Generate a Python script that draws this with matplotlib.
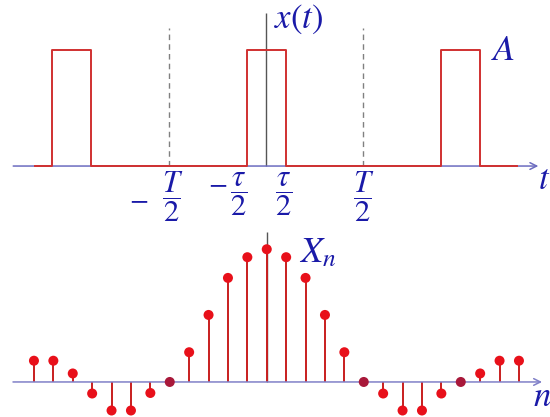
import numpy as np
import matplotlib.pyplot as plt

plt.rcParams['mathtext.fontset'] = 'stix'
plt.rcParams['font.family'] = ['Liberation Serif', 'DejaVu Serif']

# ---------- data ----------
A = 1.0          # pulse height
T = 10.0         # period
tau = 2.0        # pulse width
pulse_centers = [-T, 0.0, T]
t_start, t_end = -11.9, 12.9

n = np.arange(-12, 14)
Xn = [0.16, 0.16, 0.064, -0.087, -0.215, -0.215, -0.083, 0.0,
      0.224, 0.505, 0.784, 0.94, 1.0, 0.94, 0.784, 0.505, 0.224,
      0.0, -0.087, -0.215, -0.215, -0.087, 0.0, 0.064, 0.16, 0.16]

tick_pos = [-T / 2, -tau / 2, tau / 2, T / 2]
tick_txt = [r'$\dfrac{T}{2}$', r'$\dfrac{\tau}{2}$', r'$\dfrac{\tau}{2}$', r'$\dfrac{T}{2}$']
tick_neg = [True, True, False, False]

# ---------- colours ----------
red_line = '#d03030'
stem_col = '#c81e1e'
dot_col = '#e8101a'
zero_dot = '#a8183a'
axis_col = '#6c6cc0'
txt_col = '#1a1aa8'

fig = plt.figure(figsize=(5.5, 4.17), dpi=100)

# ---------- top: pulse train ----------
ax1 = fig.add_axes([0, 187 / 417, 1, 230 / 417])
ax1.set_xlim(-13.68, 14.60)
ax1.set_ylim(-0.549, 1.425)
ax1.axis('off')

ts, ys = [t_start], [0.0]
for c in pulse_centers:
    ts += [c - tau / 2, c - tau / 2, c + tau / 2, c + tau / 2]
    ys += [0.0, A, A, 0.0]
ts.append(t_end)
ys.append(0.0)

ax1.annotate('', xy=(14.0, 0), xytext=(-13.0, 0),
             arrowprops=dict(arrowstyle='->', color=axis_col, lw=1.1,
                             shrinkA=0, shrinkB=0, mutation_scale=12))
ax1.plot(ts, ys, color=red_line, lw=1.4, zorder=3)
ax1.vlines([-T / 2, T / 2], 0, 1.185, colors='#808080', lw=1,
           linestyles=(0, (4, 3)))
ax1.vlines(0, 0, 1.31, colors='#555555', lw=1, zorder=2)

ax1.text(0.40, 1.26, r'$x(t)$', fontsize=25, color=txt_col, ha='left', va='center')
ax1.text(11.55, 0.98, r'$A$', fontsize=26, color=txt_col, ha='left', va='center')
ax1.text(14.0, -0.12, r'$t$', fontsize=25, color=txt_col, ha='left', va='center')

# tick labels under the time axis
offsets = [0.18, -0.39, -0.10, 0.04]
heights = [-0.266, -0.245, -0.245, -0.266]
for p, s, neg, dx, hy in zip(tick_pos, tick_txt, tick_neg, offsets, heights):
    ax1.text(p + dx, hy, s, fontsize=22, color=txt_col, ha='center', va='center')
    if neg:
        mx = p + dx - (1.72 if 'T' in s else 1.08)
        my = hy - (0.03 if 'T' in s else -0.082)
        ax1.text(mx, my, r'$-$', fontsize=20, color=txt_col, ha='center', va='center')

# ---------- bottom: line spectrum ----------
ax2 = fig.add_axes([0, 0, 1, 187 / 417])
ax2.set_xlim(-13.75, 14.60)
ax2.set_ylim(-0.264, 1.145)
ax2.axis('off')

ax2.annotate('', xy=(14.19, 0), xytext=(-13.08, 0),
             arrowprops=dict(arrowstyle='->', color='#8080c8', lw=1.1,
                             shrinkA=0, shrinkB=0, mutation_scale=12))
ax2.vlines(0, 0, 1.13, colors='#555555', lw=1, zorder=1)
ax2.vlines(n, 0, Xn, colors=stem_col, lw=1.4, zorder=2)
dot_colors = [zero_dot if v == 0 else dot_col for v in Xn]
ax2.scatter(n, Xn, s=52, c=dot_colors, edgecolors='none', zorder=3)

ax2.text(1.65, 0.97, r'$X_n$', fontsize=26, color=txt_col, ha='left', va='center')
ax2.text(13.7, -0.12, r'$n$', fontsize=25, color=txt_col, ha='left', va='center')

fig.savefig('out.png', dpi=100)
